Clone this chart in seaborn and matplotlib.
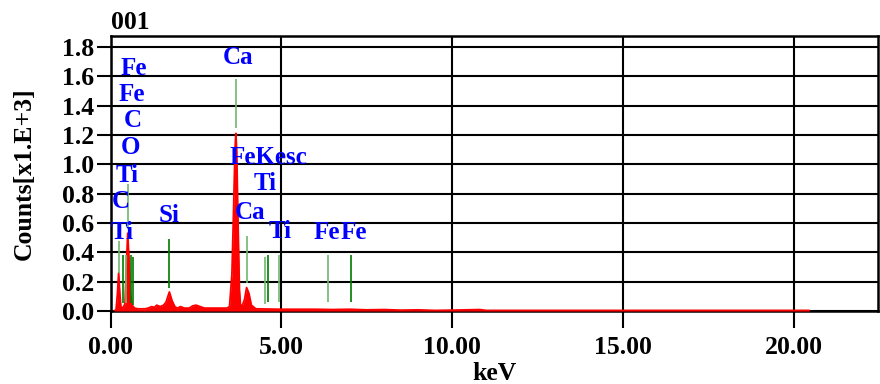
import matplotlib
matplotlib.use("Agg")
import matplotlib.pyplot as plt
import seaborn as sns
import pandas as pd

# spectrum outline (keV, counts x1000)
energy = [0.10, 0.16, 0.20, 0.235, 0.27, 0.30, 0.36, 0.42, 0.46, 0.50, 0.54, 0.58,
          0.63, 0.70, 0.80, 1.00, 1.10, 1.20, 1.28, 1.35, 1.45, 1.55, 1.62, 1.72,
          1.80, 1.88, 1.95, 2.05, 2.15, 2.30, 2.40, 2.50, 2.62, 2.75, 3.00, 3.40,
          3.48, 3.55, 3.60, 3.64, 3.665, 3.69, 3.73, 3.77, 3.80, 3.86, 3.92, 3.98,
          4.05, 4.12, 4.25, 5.00, 6.00, 6.50, 7.00, 7.50, 8.00, 8.50, 9.00, 9.50,
          10.0, 10.8, 11.0, 15.0, 20.45]
counts = [0.0, 0.01, 0.12, 0.26, 0.12, 0.03, 0.02, 0.05, 0.30, 0.53, 0.35, 0.12,
          0.04, 0.02, 0.015, 0.015, 0.02, 0.03, 0.025, 0.04, 0.03, 0.04, 0.06, 0.13,
          0.07, 0.03, 0.02, 0.03, 0.02, 0.02, 0.035, 0.04, 0.03, 0.02, 0.02, 0.02,
          0.03, 0.25, 0.70, 1.10, 1.21, 1.10, 0.60, 0.15, 0.04, 0.04, 0.08, 0.16,
          0.12, 0.04, 0.015, 0.012, 0.012, 0.01, 0.012, 0.008, 0.01, 0.006, 0.008, 0.004,
          0.006, 0.01, 0.004, 0.004, 0.004]

# element marker lines
line_kev = [0.237, 0.36, 0.44, 0.51, 0.61, 0.66, 1.72, 3.66, 3.98, 4.51, 4.62, 4.93, 6.37, 7.04]
line_lo = [0.26, 0.055, 0.055, 0.56, 0.055, 0.04, 0.16, 1.25, 0.19, 0.05, 0.06, 0.06, 0.06, 0.06]
line_hi = [0.48, 0.38, 0.38, 0.865, 0.38, 0.37, 0.49, 1.58, 0.51, 0.37, 0.38, 0.38, 0.38, 0.38]
line_dark = [False, True, False, False, True, True, True, False, False, False, True, False, False, True]

# element labels
label_text = ["Fe", "Fe", "C", "O", "Ti", "C", "Ti", "Si", "Ca", "FeKesc", "Ti", "Ca", "Ti", "Fe", "Fe"]
label_x = [0.685, 0.626, 0.656, 0.568, 0.48, 0.30, 0.33, 1.71, 3.73, 4.61, 4.52, 4.08, 4.96, 6.33, 7.13]
label_y = [1.655, 1.478, 1.30, 1.117, 0.926, 0.749, 0.538, 0.654, 1.73, 1.049, 0.872, 0.674, 0.545, 0.538, 0.538]

x_ticks = [0, 5, 10, 15, 20]
y_ticks = [0.0, 0.2, 0.4, 0.6, 0.8, 1.0, 1.2, 1.4, 1.6, 1.8]

sns.set_theme(style="white")
plt.rcParams["font.family"] = ["Liberation Serif", "DejaVu Serif"]
plt.rcParams["font.weight"] = "bold"
plt.rcParams["text.color"] = "black"
plt.rcParams["axes.labelcolor"] = "black"

fig = plt.figure(figsize=(8.8, 3.84), dpi=100)
ax = fig.add_axes([0.1257, 0.19, 0.872, 0.716])

spec = pd.DataFrame({"keV": energy, "counts": counts})
ax.fill_between(spec["keV"], 0, spec["counts"], color="#ff0000", lw=0, zorder=3)
sns.lineplot(data=spec, x="keV", y="counts", color="#ff0000", lw=1.3, ax=ax, zorder=3)

for xk, lo, hi, dk in zip(line_kev, line_lo, line_hi, line_dark):
    ax.vlines(xk, lo, hi, color="#007a00" if dk else "#6cb96c", lw=1.2, zorder=4)

for t, xl, yl in zip(label_text, label_x, label_y):
    ax.text(xl, yl, t, color="#0000ff", fontsize=18, fontweight="bold",
            ha="center", va="center", zorder=5)

ax.set_xlim(0, 22.46)
ax.set_ylim(0, 1.873)
ax.set_xticks(x_ticks)
ax.set_xticklabels([f"{v:.2f}" for v in x_ticks])
ax.set_yticks(y_ticks)
ax.set_yticklabels([f"{v:.1f}" for v in y_ticks])
ax.grid(True, color="black", lw=1.5, zorder=1)
ax.set_axisbelow(True)
for s in ax.spines.values():
    s.set_color("black")
    s.set_linewidth(1.8)
ax.tick_params(axis="x", direction="out", length=12, width=1.5, pad=6,
               labelsize=18.5, colors="black", bottom=True)
ax.tick_params(axis="y", direction="out", length=10, width=1.5, pad=2,
               labelsize=18.5, colors="black", left=True)
for lab in ax.get_xticklabels() + ax.get_yticklabels():
    lab.set_fontweight("bold")

ax.set_xlabel("keV", fontsize=18.5, fontweight="bold", labelpad=2, color="black")
ax.set_ylabel("Counts[x1.E+3]", fontsize=18.5, fontweight="bold", labelpad=19, color="black")
ax.set_title("001", loc="left", fontsize=18.5, fontweight="bold", pad=5, color="black")

fig.savefig("out.png", dpi=100)
